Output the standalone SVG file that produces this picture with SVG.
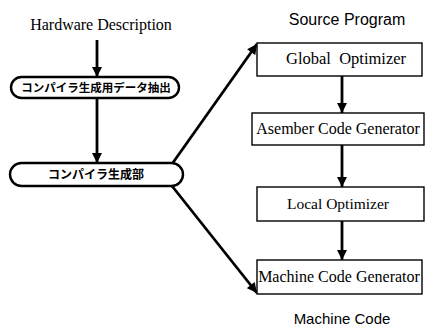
<svg xmlns="http://www.w3.org/2000/svg" width="425" height="327" viewBox="0 0 425 327">
  <style>
    .serif { font-family: "Liberation Serif", "Times New Roman", serif; fill: #000; }
    .sans { font-family: "Liberation Sans", Arial, sans-serif; fill: #000; }
    .jp { font-family: "Noto Sans CJK JP", "Noto Sans CJK SC", sans-serif; font-weight: bold; fill: #000; }
    .pill { fill: #fff; stroke: #000; stroke-width: 2.4; }
    .box { fill: #fff; stroke: #000; stroke-width: 1.4; }
    .conn { stroke: #000; stroke-width: 2.8; fill: none; marker-end: url(#head); }
  </style>
  <defs>
    <marker id="head" viewBox="0 0 10 10" refX="10" refY="5" markerWidth="4" markerHeight="3.6" orient="auto" markerUnits="strokeWidth">
      <path d="M0,0 L10,5 L0,10 Z" fill="#000"/>
    </marker>
  </defs>
  <rect width="425" height="327" fill="#fff"/>

  <!-- free-standing labels -->
  <text class="serif" x="101" y="30" font-size="16" text-anchor="middle">Hardware Description</text>
  <text class="sans" x="347" y="25" font-size="16" text-anchor="middle">Source Program</text>
  <text class="sans" x="342" y="324" font-size="15" text-anchor="middle">Machine Code</text>

  <g id="connectors">
    <line class="conn" x1="97" y1="40" x2="97" y2="77"/>
    <line class="conn" x1="97" y1="98" x2="97" y2="163"/>
    <line class="conn" x1="172" y1="164" x2="257" y2="44"/>
    <line class="conn" x1="172" y1="186" x2="257" y2="293"/>
    <line class="conn" x1="342" y1="76" x2="342" y2="113"/>
    <line class="conn" x1="342" y1="145" x2="342" y2="187"/>
    <line class="conn" x1="342" y1="221" x2="342" y2="260"/>
  </g>

  <g id="extract">
    <rect class="pill" x="11" y="77" width="168" height="21" rx="10.5"/>
    <text class="jp" x="96" y="92" font-size="11.5" text-anchor="middle">コンパイラ生成用データ抽出</text>
  </g>
  <g id="generator">
    <rect class="pill" x="10" y="163" width="173" height="23" rx="11.5"/>
    <text class="jp" x="96" y="179" font-size="12" text-anchor="middle">コンパイラ生成部</text>
  </g>

  <g id="global-optimizer">
    <rect class="box" x="257" y="43" width="165" height="33"/>
    <text class="serif" x="346" y="64" font-size="16.5" text-anchor="middle" xml:space="preserve">Global  Optimizer</text>
  </g>
  <g id="asm-generator">
    <rect class="box" x="252" y="113" width="172" height="32"/>
    <text class="serif" x="338" y="134" font-size="16" text-anchor="middle">Asember Code Generator</text>
  </g>
  <g id="local-optimizer">
    <rect class="box" x="257" y="187" width="167" height="34"/>
    <text class="serif" x="338" y="209" font-size="15.5" text-anchor="middle">Local Optimizer</text>
  </g>
  <g id="machine-generator">
    <rect class="box" x="257" y="260" width="165" height="34"/>
    <text class="serif" x="339" y="282" font-size="16" text-anchor="middle">Machine Code Generator</text>
  </g>
</svg>
